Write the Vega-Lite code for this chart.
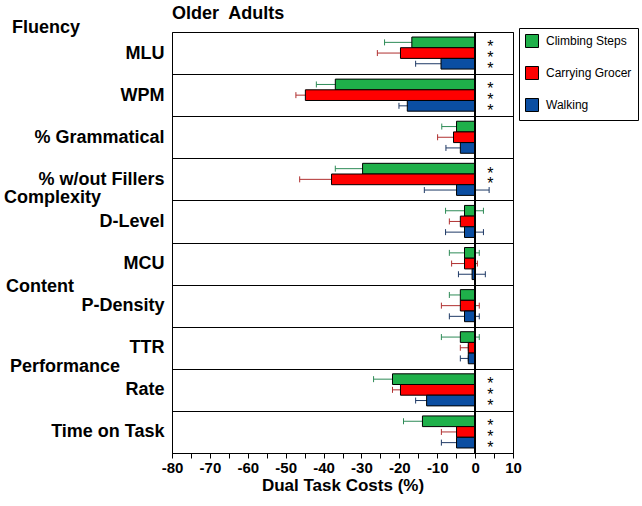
{
  "$schema": "https://vega.github.io/schema/vega-lite/v6.json",
  "width": 341,
  "height": 421,
  "autosize": {"type": "none"},
  "padding": {"left": 172, "top": 32, "right": 129, "bottom": 53},
  "title": {"text": "Older\u00a0 Adults", "anchor": "start", "frame": "group", "fontSize": 18, "fontWeight": "bold", "font": "Liberation Sans", "offset": -4, "color": "black"},
  "config": {
    "font": "Liberation Sans",
    "view": {"stroke": "black", "strokeWidth": 1},
    "axisX": {"tickCount": 18, "labelExpr": "datum.value % 10 === 0 ? '' + datum.value : ''", "labelFlush": false, "labelOverlap": false,
      "grid": false, "domainColor": "black", "tickColor": "black", "tickSize": 5,
      "labelFontSize": 15, "labelFontWeight": "bold", "labelColor": "black", "labelPadding": 2, "labelFont": "Liberation Sans",
      "titleFontSize": 17, "titleFontWeight": "bold", "titleColor": "black", "titlePadding": 2, "titleFont": "Liberation Sans"},
    "axisY": {"domain": false, "ticks": false, "grid": true, "tickBand": "extent", "gridColor": "black", "gridOpacity": 1, "gridWidth": 1,
      "labelFontSize": 18, "labelFontWeight": "bold", "labelColor": "black", "labelPadding": 8, "labelLimit": 200, "labelFont": "Liberation Sans"}
  },
  "data": {"values": [
    {"panel": "MLU", "series": "Climbing Steps", "value": -16.7, "lo": -23.9, "hi": -9.5, "sig": "*"},
    {"panel": "MLU", "series": "Carrying Groceries", "value": -19.7, "lo": -25.8, "hi": -13.6, "sig": "*"},
    {"panel": "MLU", "series": "Walking", "value": -9.0, "lo": -15.7, "hi": -2.3, "sig": "*"},
    {"panel": "WPM", "series": "Climbing Steps", "value": -36.9, "lo": -41.9, "hi": -31.9, "sig": "*"},
    {"panel": "WPM", "series": "Carrying Groceries", "value": -44.8, "lo": -47.3, "hi": -42.3, "sig": "*"},
    {"panel": "WPM", "series": "Walking", "value": -17.9, "lo": -20.1, "hi": -15.7, "sig": "*"},
    {"panel": "% Grammatical", "series": "Climbing Steps", "value": -4.9, "lo": -8.8, "hi": -1.0, "sig": ""},
    {"panel": "% Grammatical", "series": "Carrying Groceries", "value": -5.7, "lo": -9.9, "hi": -1.5, "sig": ""},
    {"panel": "% Grammatical", "series": "Walking", "value": -3.9, "lo": -7.7, "hi": -0.1, "sig": ""},
    {"panel": "% w/out Fillers", "series": "Climbing Steps", "value": -29.7, "lo": -36.9, "hi": -22.5, "sig": "*"},
    {"panel": "% w/out Fillers", "series": "Carrying Groceries", "value": -37.9, "lo": -46.3, "hi": -29.5, "sig": "*"},
    {"panel": "% w/out Fillers", "series": "Walking", "value": -4.9, "lo": -13.4, "hi": 3.7, "sig": ""},
    {"panel": "D-Level", "series": "Climbing Steps", "value": -2.8, "lo": -7.8, "hi": 2.2, "sig": ""},
    {"panel": "D-Level", "series": "Carrying Groceries", "value": -3.9, "lo": -6.8, "hi": -1.0, "sig": ""},
    {"panel": "D-Level", "series": "Walking", "value": -2.8, "lo": -7.8, "hi": 2.2, "sig": ""},
    {"panel": "MCU", "series": "Climbing Steps", "value": -2.8, "lo": -6.8, "hi": 1.1, "sig": ""},
    {"panel": "MCU", "series": "Carrying Groceries", "value": -2.8, "lo": -6.2, "hi": 0.6, "sig": ""},
    {"panel": "MCU", "series": "Walking", "value": -0.8, "lo": -4.4, "hi": 2.7, "sig": ""},
    {"panel": "P-Density", "series": "Climbing Steps", "value": -3.9, "lo": -6.8, "hi": -1.0, "sig": ""},
    {"panel": "P-Density", "series": "Carrying Groceries", "value": -3.9, "lo": -8.9, "hi": 1.1, "sig": ""},
    {"panel": "P-Density", "series": "Walking", "value": -2.8, "lo": -6.8, "hi": 1.1, "sig": ""},
    {"panel": "TTR", "series": "Climbing Steps", "value": -3.9, "lo": -8.9, "hi": 1.1, "sig": ""},
    {"panel": "TTR", "series": "Carrying Groceries", "value": -1.8, "lo": -3.9, "hi": -1.8, "sig": ""},
    {"panel": "TTR", "series": "Walking", "value": -1.8, "lo": -3.9, "hi": -1.8, "sig": ""},
    {"panel": "Rate", "series": "Climbing Steps", "value": -21.8, "lo": -26.8, "hi": -16.8, "sig": "*"},
    {"panel": "Rate", "series": "Carrying Groceries", "value": -19.7, "lo": -21.8, "hi": -17.6, "sig": "*"},
    {"panel": "Rate", "series": "Walking", "value": -12.8, "lo": -15.7, "hi": -9.9, "sig": "*"},
    {"panel": "Time on Task", "series": "Climbing Steps", "value": -13.9, "lo": -18.9, "hi": -8.9, "sig": "*"},
    {"panel": "Time on Task", "series": "Carrying Groceries", "value": -4.9, "lo": -8.9, "hi": -0.9, "sig": "*"},
    {"panel": "Time on Task", "series": "Walking", "value": -4.9, "lo": -8.9, "hi": -0.9, "sig": "*"}
  ]},
  "layer": [
    {
      "mark": {"type": "rule", "strokeWidth": 1},
      "encoding": {
        "y": {"field": "panel", "type": "nominal", "title": null,
          "scale": {"domain": ["MLU", "WPM", "% Grammatical", "% w/out Fillers", "D-Level", "MCU", "P-Density", "TTR", "Rate", "Time on Task"], "paddingInner": 0, "paddingOuter": 0}},
        "yOffset": {"field": "series", "type": "nominal", "scale": {"domain": ["Climbing Steps", "Carrying Groceries", "Walking"], "paddingInner": 0, "paddingOuter": 0.47}},
        "x": {"field": "lo", "type": "quantitative", "title": "Dual Task Costs (%)", "scale": {"domain": [-80, 10], "nice": false}},
        "x2": {"field": "hi"},
        "stroke": {"condition": [{"test": "datum.series === 'Climbing Steps'", "value": "#2e8b57"}, {"test": "datum.series === 'Carrying Groceries'", "value": "#b03030"}], "value": "#1f3a66"}
      }
    },
    {
      "mark": {"type": "point", "shape": "M0,-1L0,1", "size": 36, "filled": false, "strokeWidth": 1, "opacity": 1},
      "encoding": {
        "y": {"field": "panel", "type": "nominal"},
        "yOffset": {"field": "series", "type": "nominal"},
        "x": {"field": "lo", "type": "quantitative"},
        "stroke": {"condition": [{"test": "datum.series === 'Climbing Steps'", "value": "#2e8b57"}, {"test": "datum.series === 'Carrying Groceries'", "value": "#b03030"}], "value": "#1f3a66"}
      }
    },
    {
      "mark": {"type": "point", "shape": "M0,-1L0,1", "size": 36, "filled": false, "strokeWidth": 1, "opacity": 1},
      "encoding": {
        "y": {"field": "panel", "type": "nominal"},
        "yOffset": {"field": "series", "type": "nominal"},
        "x": {"field": "hi", "type": "quantitative"},
        "stroke": {"condition": [{"test": "datum.series === 'Climbing Steps'", "value": "#2e8b57"}, {"test": "datum.series === 'Carrying Groceries'", "value": "#b03030"}], "value": "#1f3a66"}
      }
    },
    {
      "mark": {"type": "bar", "stroke": "black", "strokeWidth": 1},
      "encoding": {
        "y": {"field": "panel", "type": "nominal"},
        "yOffset": {"field": "series", "type": "nominal"},
        "x": {"field": "value", "type": "quantitative", "stack": null},
        "fill": {"field": "series", "type": "nominal",
          "scale": {"domain": ["Climbing Steps", "Carrying Groceries", "Walking"], "range": ["#1fb04a", "#ff0000", "#0b4ea2"]},
          "legend": {"title": null, "orient": "none", "legendX": 347, "legendY": -4, "direction": "vertical",
            "symbolType": "square", "symbolSize": 169, "symbolStrokeColor": "black", "symbolStrokeWidth": 1,
            "labelFontSize": 12, "labelFont": "Liberation Sans", "labelColor": "black", "labelLimit": 88, "labelOffset": 7,
            "rowPadding": 14, "padding": 6, "strokeColor": "black", "fillColor": "white",
            "encode": {"labels": {"update": {"ellipsis": {"value": "\u200b"}}}}}}
      }
    },
    {
      "mark": {"type": "rule", "color": "black", "strokeWidth": 1},
      "encoding": {"x": {"datum": 0, "type": "quantitative"}}
    },
    {
      "mark": {"type": "text", "fontSize": 16, "dy": 5, "color": "black"},
      "encoding": {
        "y": {"field": "panel", "type": "nominal"},
        "yOffset": {"field": "series", "type": "nominal"},
        "x": {"datum": 4, "type": "quantitative"},
        "text": {"field": "sig"}
      }
    },
    {
      "data": {"values": [{"panel": "MLU", "section": "Fluency"}]},
      "mark": {"type": "text", "align": "left", "baseline": "middle", "fontSize": 18, "fontWeight": "bold", "color": "black", "dx": -160, "dy": -25},
      "encoding": {"x": {"datum": -80, "type": "quantitative"}, "y": {"field": "panel", "type": "nominal"}, "text": {"field": "section"}}
    },
    {
      "data": {"values": [{"panel": "D-Level", "section": "Complexity"}]},
      "mark": {"type": "text", "align": "left", "baseline": "middle", "fontSize": 18, "fontWeight": "bold", "color": "black", "dx": -168, "dy": -23.5},
      "encoding": {"x": {"datum": -80, "type": "quantitative"}, "y": {"field": "panel", "type": "nominal"}, "text": {"field": "section"}}
    },
    {
      "data": {"values": [{"panel": "P-Density", "section": "Content"}]},
      "mark": {"type": "text", "align": "left", "baseline": "middle", "fontSize": 18, "fontWeight": "bold", "color": "black", "dx": -166, "dy": -18.7},
      "encoding": {"x": {"datum": -80, "type": "quantitative"}, "y": {"field": "panel", "type": "nominal"}, "text": {"field": "section"}}
    },
    {
      "data": {"values": [{"panel": "Rate", "section": "Performance"}]},
      "mark": {"type": "text", "align": "left", "baseline": "middle", "fontSize": 18, "fontWeight": "bold", "color": "black", "dx": -162, "dy": -23},
      "encoding": {"x": {"datum": -80, "type": "quantitative"}, "y": {"field": "panel", "type": "nominal"}, "text": {"field": "section"}}
    }
  ]
}
